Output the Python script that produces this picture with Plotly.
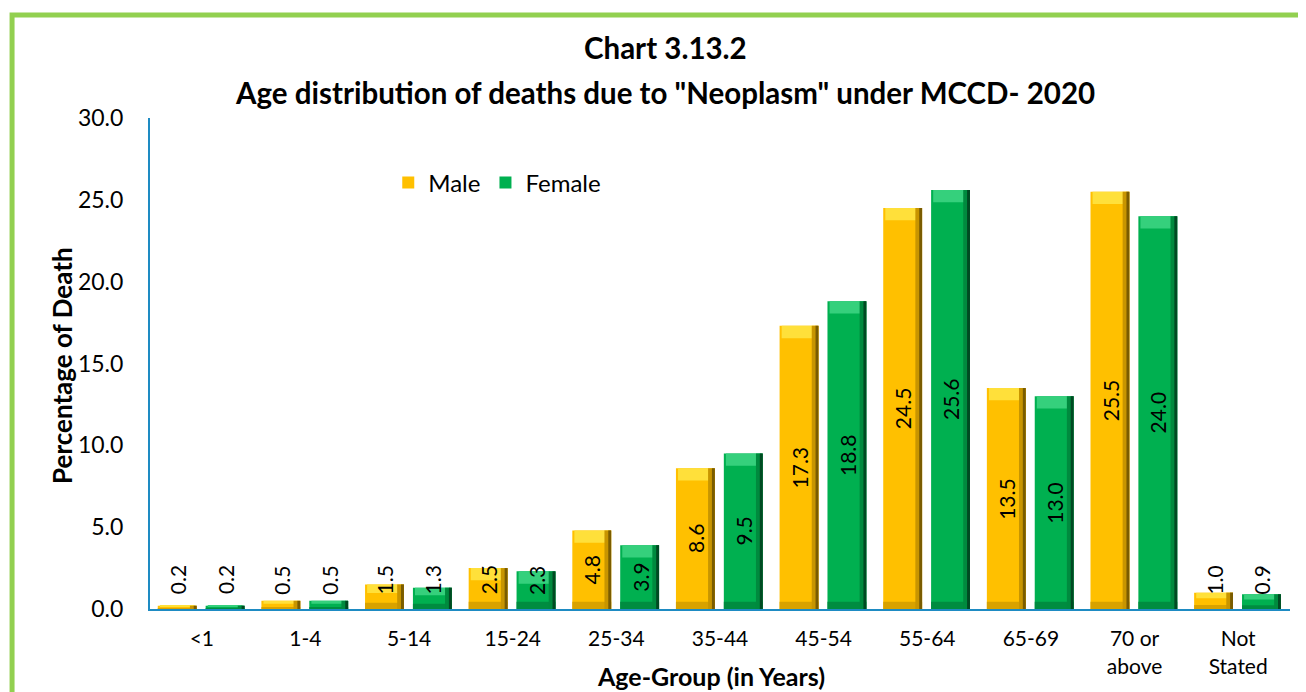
import plotly.graph_objects as go

# ---------------- data ----------------
age_groups = ["<1", "1-4", "5-14", "15-24", "25-34", "35-44", "45-54",
              "55-64", "65-69", "70 or<br>above", "Not<br>Stated"]
male = [0.2, 0.5, 1.5, 2.5, 4.8, 8.6, 17.3, 24.5, 13.5, 25.5, 1.0]
female = [0.2, 0.5, 1.3, 2.3, 3.9, 9.5, 18.8, 25.6, 13.0, 24.0, 0.9]
y_ticks = [0, 5, 10, 15, 20, 25, 30]

title_line1 = "Chart 3.13.2"
title_line2 = 'Age distribution of deaths due to "Neoplasm" under MCCD- 2020'
x_title = "Age-Group (in Years)"
y_title = "Percentage of Death"

FONT = "Lato"
xs = list(range(len(age_groups)))

BAR_W = 0.375
series = [
    dict(name="Male", vals=male, off=-0.425,
         base="#FFC000", top="#FFE03A", bottom="#D8A200", mid="#C89500", dark="#7A5C00"),
    dict(name="Female", vals=female, off=0.037,
         base="#00B050", top="#35D07C", bottom="#008C40", mid="#008A3E", dark="#004A22"),
]

fig = go.Figure()

for s in series:
    v = s["vals"]
    # main bar
    fig.add_trace(go.Bar(
        x=xs, y=v, name=s["name"], offset=s["off"], width=BAR_W,
        marker=dict(color=s["base"], line=dict(width=0)),
        hoverinfo="y+name",
    ))
    # top bevel highlight
    top_h = [min(0.75, a * 0.35) for a in v]
    fig.add_trace(go.Bar(
        x=xs, y=top_h, base=[a - h for a, h in zip(v, top_h)],
        offset=s["off"] + 0.02, width=BAR_W - 0.04,
        marker=dict(color=s["top"], line=dict(width=0)),
        showlegend=False, hoverinfo="skip",
    ))
    # bottom bevel shadow
    bot_h = [min(0.45, a * 0.25) for a in v]
    fig.add_trace(go.Bar(
        x=xs, y=bot_h, offset=s["off"], width=BAR_W,
        marker=dict(color=s["bottom"], line=dict(width=0)),
        showlegend=False, hoverinfo="skip",
    ))
    # right edge shading
    fig.add_trace(go.Bar(
        x=xs, y=v, offset=s["off"] + BAR_W - 0.065, width=0.065,
        marker=dict(color=s["mid"], line=dict(width=0)),
        showlegend=False, hoverinfo="skip",
    ))
    fig.add_trace(go.Bar(
        x=xs, y=v, offset=s["off"] + BAR_W - 0.028, width=0.028,
        marker=dict(color=s["dark"], line=dict(width=0)),
        showlegend=False, hoverinfo="skip",
    ))

annotations = []
# value labels (rotated, centred in bar; lifted for short bars)
for s in series:
    for i, a in enumerate(s["vals"]):
        annotations.append(dict(
            x=xs[i] + s["off"] + BAR_W / 2, y=max(a / 2, 1.77),
            xref="x", yref="y", text=f"{a:.1f}", textangle=-90,
            showarrow=False, xanchor="center", yanchor="middle",
            font=dict(family=FONT, size=21, color="#000000"),
        ))

# titles
annotations += [
    dict(x=0.452, y=1.1426, xref="paper", yref="paper", text=f"<b>{title_line1}</b>",
         showarrow=False, xanchor="center", yanchor="middle",
         font=dict(family=FONT, size=29.5, color="#000000")),
    dict(x=0.452, y=1.051, xref="paper", yref="paper", text=f"<b>{title_line2}</b>",
         showarrow=False, xanchor="center", yanchor="middle",
         font=dict(family=FONT, size=29.5, color="#000000")),
    dict(x=0.492, y=-0.1365, xref="paper", yref="paper", text=f"<b>{x_title}</b>",
         showarrow=False, xanchor="center", yanchor="middle",
         font=dict(family=FONT, size=25, color="#000000")),
    dict(x=-0.0772, y=0.497, xref="paper", yref="paper", text=f"<b>{y_title}</b>",
         showarrow=False, xanchor="center", yanchor="middle", textangle=-90,
         font=dict(family=FONT, size=26, color="#000000")),
]

fig.update_layout(
    width=1298, height=684,
    margin=dict(l=142, r=16, t=110, b=83, autoexpand=False),
    paper_bgcolor="#FFFFFF", plot_bgcolor="#FFFFFF",
    barmode="overlay",
    showlegend=True,
    legend=dict(orientation="h", x=0.209, y=0.868, xanchor="left", yanchor="middle",
                font=dict(family=FONT, size=24, color="#000000"),
                bgcolor="rgba(0,0,0,0)", itemwidth=30),
    xaxis=dict(
        range=[-0.5, len(age_groups) - 0.5],
        tickmode="array", tickvals=xs, ticktext=age_groups,
        showgrid=False, zeroline=False,
        showline=True, linecolor="#1E8BC3", linewidth=2,
        ticks="outside", ticklen=10, tickcolor="rgba(0,0,0,0)",
        tickfont=dict(family=FONT, size=21, color="#000000"),
    ),
    yaxis=dict(
        range=[0, 30], tickmode="array", tickvals=y_ticks,
        ticktext=[f"{t:.1f}" for t in y_ticks],
        showgrid=False, zeroline=False,
        showline=True, linecolor="#1E8BC3", linewidth=2,
        ticks="outside", ticklen=20, tickcolor="rgba(0,0,0,0)",
        tickfont=dict(family=FONT, size=23, color="#000000"),
    ),
    annotations=annotations,
    shapes=[dict(type="rect", xref="paper", yref="paper",
                 x0=-0.121, y0=-0.2, x1=1.03, y1=1.2098,
                 line=dict(color="#92D050", width=5), fillcolor="rgba(0,0,0,0)",
                 layer="above")],
)

fig.write_html("out.html")
